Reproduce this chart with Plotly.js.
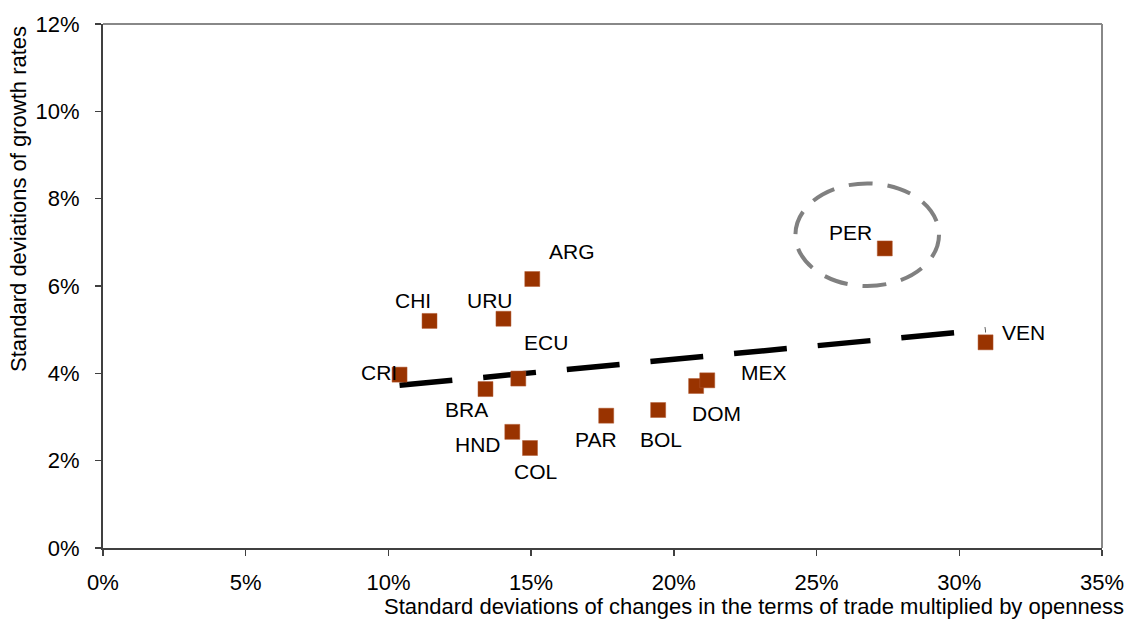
<!DOCTYPE html>
<html>
<head>
<meta charset="utf-8">
<script src="https://cdn.plot.ly/plotly-3.0.1.min.js"></script>
<style>html,body{margin:0;padding:0;background:#fff;}#chart{width:1128px;height:622px;}</style>
</head>
<body>
<div id="chart"></div>
<script>
// Data (percent units)
const countries = ["CRI","CHI","URU","ARG","ECU","BRA","HND","COL","PAR","BOL","DOM","MEX","PER","VEN"];
const totVolatility = [10.39, 11.44, 14.03, 15.04, 14.55, 13.40, 14.34, 14.96, 17.63, 19.45, 20.78, 21.17, 27.39, 30.92];
const growthVolatility = [3.97, 5.20, 5.25, 6.16, 3.88, 3.64, 2.66, 2.29, 3.03, 3.16, 3.71, 3.84, 6.86, 4.71];
const xTickVals = [0, 5, 10, 15, 20, 25, 30, 35];
const yTickVals = [0, 2, 4, 6, 8, 10, 12];

// Label placement (pixel offsets from each point; styling only)
const labelShift = {
  CRI: [-21, 2], CHI: [-17, 20], URU: [-13, 18], ARG: [40, 28], ECU: [28, 36],
  BRA: [-19, -20], HND: [-34, -13], COL: [5, -23], PAR: [-10, -24], BOL: [3, -29],
  DOM: [20, -27], MEX: [57, 8], PER: [-34, 16], VEN: [38, 10]
};

// OLS trend line through all points
const n = totVolatility.length;
const mx = totVolatility.reduce((a, b) => a + b, 0) / n;
const my = growthVolatility.reduce((a, b) => a + b, 0) / n;
let sxy = 0, sxx = 0;
for (let i = 0; i < n; i++) {
  sxy += (totVolatility[i] - mx) * (growthVolatility[i] - my);
  sxx += (totVolatility[i] - mx) ** 2;
}
const slope = sxy / sxx;
const intercept = my - slope * mx;
const xmin = Math.min(...totVolatility), xmax = Math.max(...totVolatility);
const trendX = [xmin, xmax];
const trendY = trendX.map(v => intercept + slope * v);

const FONT = "Liberation Sans, Arial, sans-serif";

const traces = [
  {
    x: trendX, y: trendY, mode: "lines", type: "scatter",
    line: { color: "#000000", width: 5.5, dash: "53px,31px" },
    hoverinfo: "skip", showlegend: false
  },
  {
    x: totVolatility, y: growthVolatility, mode: "markers", type: "scatter",
    marker: { symbol: "square", size: 15, color: "#993300", line: { color: "#b25a33", width: 0.5 } },
    text: countries, showlegend: false
  }
];

const annotations = countries.map((c, i) => ({
  x: totVolatility[i], y: growthVolatility[i], xref: "x", yref: "y",
  text: c, showarrow: false, xshift: labelShift[c][0], yshift: labelShift[c][1],
  font: { family: FONT, size: 21, color: "#000000" }
}));

annotations.push({
  xref: "paper", yref: "paper", x: 1, y: 0, xanchor: "right", yanchor: "bottom",
  xshift: 24, yshift: -73, showarrow: false,
  text: "Standard deviations of changes in the terms of trade multiplied by openness",
  font: { family: FONT, size: 22, color: "#000000" }
});
annotations.push({
  xref: "paper", yref: "paper", x: 0, y: 0.666, xanchor: "center", yanchor: "middle",
  xshift: -85, showarrow: false, textangle: -90,
  text: "Standard deviations of growth rates",
  font: { family: FONT, size: 22, color: "#000000" }
});

const layout = {
  width: 1128, height: 622,
  margin: { l: 103, r: 26, t: 24, b: 74 },
  paper_bgcolor: "#ffffff", plot_bgcolor: "#ffffff",
  font: { family: FONT, size: 20, color: "#000000" },
  showlegend: false,
  xaxis: {
    range: [0, 35], tickvals: xTickVals, ticktext: xTickVals.map(v => v + "%"),
    showgrid: false, zeroline: false, showline: true, linecolor: "#404040", linewidth: 2,
    ticks: "outside", ticklen: 6, tickwidth: 1.5, tickcolor: "#404040",
    tickfont: { family: FONT, size: 22, color: "#000000" }, ticklabelstandoff: 8
  },
  yaxis: {
    range: [0, 12], tickvals: yTickVals, ticktext: yTickVals.map(v => v + "%"),
    showgrid: false, zeroline: false, showline: true, linecolor: "#404040", linewidth: 2,
    ticks: "outside", ticklen: 6, tickwidth: 1.5, tickcolor: "#404040",
    tickfont: { family: FONT, size: 22, color: "#000000" }, ticklabelstandoff: 11
  },
  shapes: [
    { type: "line", xref: "paper", yref: "paper", x0: 0, x1: 1, y0: 1, y1: 1, line: { color: "#888888", width: 2 } },
    { type: "line", xref: "paper", yref: "paper", x0: 1, x1: 1, y0: 0, y1: 1, line: { color: "#888888", width: 2 } },
    { type: "circle", xref: "x", yref: "y", x0: 24.26, x1: 29.29, y0: 6.00, y1: 8.35,
      line: { color: "#808080", width: 4, dash: "24px,15px" } }
  ],
  annotations: annotations
};

Plotly.newPlot("chart", traces, layout, { displayModeBar: false, staticPlot: true });
</script>
</body>
</html>
